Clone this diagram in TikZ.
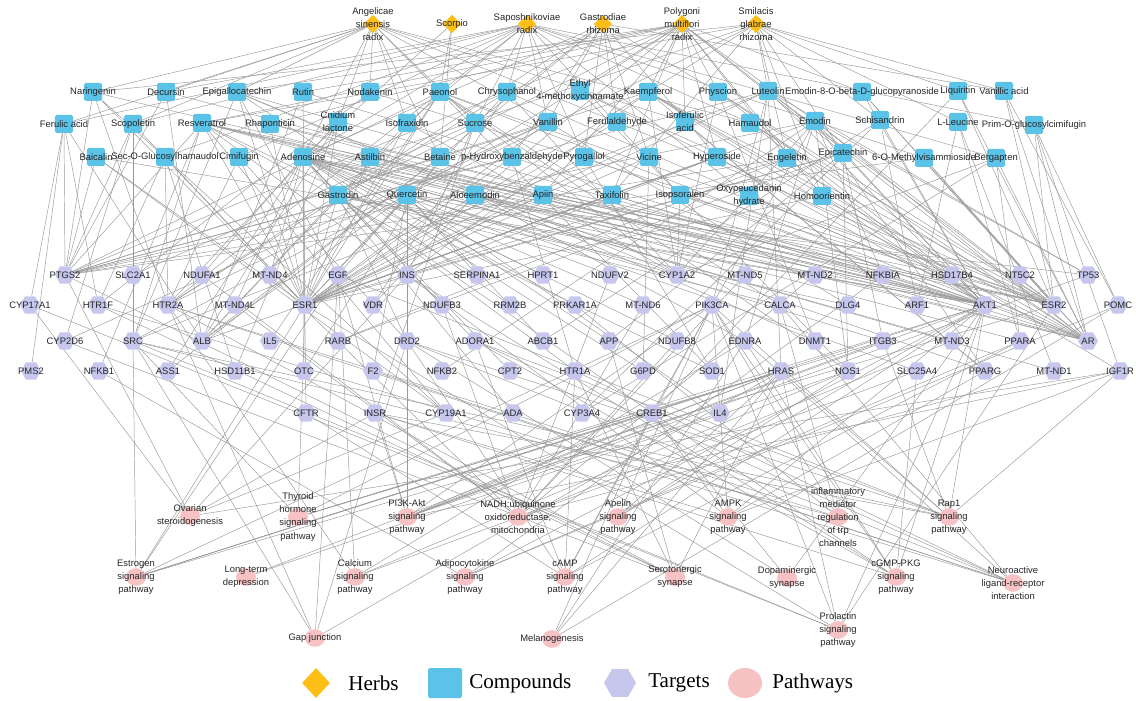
\documentclass[tikz,border=0pt]{standalone}
\usepackage{fontspec}
\setmainfont{Liberation Sans}
\newfontfamily\legfont{Liberation Serif}
\usetikzlibrary{shapes.geometric,backgrounds}
\definecolor{herbc}{HTML}{FDBE16}
\definecolor{cpdc}{HTML}{5BC3E8}
\definecolor{tgtc}{HTML}{C7C7EE}
\definecolor{pwc}{HTML}{F6C2C4}
\begin{document}
\begin{tikzpicture}[x=0.025cm,y=-0.025cm,
  herb/.style={diamond,fill=herbc,inner sep=0pt,minimum width=4.6mm,minimum height=4.6mm},
  cpd/.style={rectangle,rounded corners=1.2pt,fill=cpdc,inner sep=0pt,minimum size=4.5mm},
  tgt/.style={regular polygon,regular polygon sides=6,fill=tgtc,inner sep=0pt,minimum size=5mm},
  pw/.style={ellipse,fill=pwc,inner sep=0pt,minimum width=5mm,minimum height=4.4mm},
  txt/.style={font=\fontsize{6.7}{9.3}\selectfont,align=center,inner sep=0pt,text=black!85},
  leg/.style={font=\legfont\fontsize{15}{18}\selectfont,inner sep=0pt,anchor=west},
  edge/.style={draw=black!40,line width=0.33pt}]
\useasboundingbox (0,0) rectangle (1136,701);

% herbs
\foreach \n/\x/\t in {angel/373/{Angelicae\\sinensis\\radix}, scorp/452/Scorpio, sapo/527/{Saposhnikoviae\\radix},
  gastr/603/{Gastrodiae\\rhizoma}, polyg/682/{Polygoni\\multiflori\\radix}, smila/756/{Smilacis\\glabrae\\rhizoma}}
  {\node[herb] (\n) at (\x,24) {}; \node[txt] (\n t) at (\n) {\t};}

% compounds
\foreach \n/\x/\y/\t in {narin/93/92/Naringenin, decur/166/92/Decursin, epiga/237/92/Epigallocatechin, rutin/303/92/Rutin,
  nodak/370/92/Nodakenin, paeon/440/92/Paeonol, chrys/507/92/Chrysophanol, ethyl/580/91/{Ethyl\\4-methoxycinnamate},
  kaemp/648/92/Kaempferol, physc/718/92/Physcion, luteo/768/91/Luteolin, emogl/862/92/Emodin-8-O-beta-D-glucopyranoside,
  liqui/958/91/Liquiritin, vanac/1004/91/Vanillic acid,
  ferac/64/124/Ferulic acid, scopo/133/124/Scopoletin, resve/202/123/Resveratrol, rhapo/270/124/Rhaponticin,
  cnidi/338/122/{Cnidium\\lactone}, isofr/407/123/Isofraxidin, sucro/475/123/Sucrose, vanil/548/122/Vanillin,
  ferad/617/122/Ferulaldehyde, isofe/685/122/{Isoferulic\\acid}, hamau/750/123/Hamaudol, emodi/815/121/Emodin,
  schis/880/120/Schisandrin, leuci/958/122/L-Leucine, primo/1034/125/Prim-O-glucosylcimifugin,
  baica/96/157/Baicalin, secog/165/157/Sec-O-Glucosylhamaudol, cimif/239/157/Cimifugin, adeno/303/157/Adenosine,
  astil/370/157/Astilbin, betai/440/157/Betaine, phydr/512/157/p-Hydroxybenzaldehyde, pyrog/584/157/Pyrogallol,
  vicin/649/157/Vicine, hyper/717/157/Hyperoside, engel/787/158/Engeletin, epica/843/153/Epicatechin,
  methy/924/158/6-O-Methylvisammioside, berga/996/158/Bergapten,
  gastd/338/195/Gastrodin, querc/407/195/Quercetin, aloee/475/195/Aloeemodin, apiin/543/195/Apiin,
  taxif/612/195/Taxifolin, isops/680/195/Isopsoralen, oxype/749/196/{Oxypeucedanin\\hydrate}, homoo/822/196/Homoorientin}
  {\node[cpd] (\n) at (\x,\y) {}; \node[txt] (\n t) at (\n) {\t};}

% targets
\foreach \n/\x in {PTGS2/65, SLC2A1/133, NDUFA1/202, MT-ND4/270, EGF/338, INS/407, SERPINA1/477, HPRT1/543,
  NDUFV2/610, CYP1A2/677, MT-ND5/745, MT-ND2/815, NFKBIA/883, HSD17B4/952, NT5C2/1020, TP53/1088}
  {\node[tgt] (\n) at (\x,275) {}; \node[txt] (\n t) at (\n) {\n};}
\foreach \n/\x in {CYP17A1/30, HTR1F/98, HTR2A/168, MT-ND4L/235, ESR1/305, VDR/373, NDUFB3/442, RRM2B/510,
  PRKAR1A/575, MT-ND6/643, PIK3CA/712, CALCA/780, DLG4/848, ARF1/917, AKT1/985, ESR2/1054, POMC/1118}
  {\node[tgt] (\n) at (\x,305) {}; \node[txt] (\n t) at (\n) {\n};}
\foreach \n/\x in {CYP2D6/65, SRC/133, ALB/202, IL5/270, RARB/338, DRD2/407, ADORA1/475, ABCB1/543,
  APP/609, NDUFB8/677, EDNRA/745, DNMT1/815, ITGB3/883, MT-ND3/952, PPARA/1020, AR/1088}
  {\node[tgt] (\n) at (\x,341) {}; \node[txt] (\n t) at (\n) {\n};}
\foreach \n/\x in {PMS2/31, NFKB1/99, ASS1/168, HSD11B1/235, OTC/304, F2/373, NFKB2/442, CPT2/510, HTR1A/575,
  G6PD/643, SOD1/712, HRAS/781, NOS1/848, SLC25A4/917, PPARG/985, MT-ND1/1054, IGF1R/1120}
  {\node[tgt] (\n) at (\x,371) {}; \node[txt] (\n t) at (\n) {\n};}
\foreach \n/\x in {CFTR/306, INSR/375, CYP19A1/446, ADA/513, CYP3A4/582, CREB1/652, IL4/720}
  {\node[tgt] (\n) at (\x,413) {}; \node[txt] (\n t) at (\n) {\n};}

% pathways
\foreach \n/\x/\y/\t in {ovar/190/516/{Ovarian\\steroidogenesis}, thyr/298/517/{Thyroid\\hormone\\signaling\\pathway},
  pi3k/407/517/{PI3K-Akt\\signaling\\pathway}, nadh/518/517/{NADH:ubiquinone\\oxidoreductase,\\mitochondria},
  apel/618/517/{Apelin\\signaling\\pathway}, ampk/728/517/{AMPK\\signaling\\pathway},
  infl/838/517/{inflammatory\\mediator\\regulation\\of trp\\channels}, rap1/949/517/{Rap1\\signaling\\pathway},
  estr/136/577/{Estrogen\\signaling\\pathway}, ltd/246/577/{Long-term\\depression}, calc/355/577/{Calcium\\signaling\\pathway},
  adip/465/577/{Adipocytokine\\signaling\\pathway}, camp/565/577/{cAMP\\signaling\\pathway}, sero/675/577/{Serotonergic\\synapse},
  dopa/787/578/{Dopaminergic\\synapse}, cgmp/896/577/{cGMP-PKG\\signaling\\pathway},
  neur/1013/583/{Neuroactive\\ligand-receptor\\interaction}, gap/315/638/Gap junction, mela/552/639/Melanogenesis,
  prol/838/630/{Prolactin\\signaling\\pathway}}
  {\node[pw] (\n) at (\x,\y) {}; \node[txt] (\n t) at (\n) {\t};}

\begin{pgfonlayer}{background}
% herb - compound
\foreach \a/\bs in {angel/{narin,decur,ferac,scopo,nodak,isofr,cnidi,adeno,sucro,vanil,ferad,isofe,betai,hamau,paeon,epiga},
  scorp/{paeon,betai,adeno},
  sapo/{primo,cimif,secog,methy,hamau,berga,isops,decur,scopo,oxype,paeon,chrys,ferac,isofr,sucro,vanil,pyrog,adeno},
  gastr/{gastd,phydr,vanil,adeno,sucro,vanac,ferad,pyrog,vicin,betai,hyper,physc},
  polyg/{emodi,physc,chrys,aloee,rhapo,resve,emogl,epica,epiga,kaemp,luteo,querc,rutin,hyper,taxif,apiin,gastd,isofe,ethyl,homoo,engel},
  smila/{astil,engel,taxif,querc,resve,narin,liqui,vanac,luteo,kaemp,schis,leuci,homoo,epica}}
  \foreach \b in \bs \draw[edge] (\a) -- (\b);
% compound - target
\foreach \a/\bs in {narin/{ESR1,AKT1,PTGS2,CYP19A1,HTR2A}, decur/{AKT1,PTGS2,ALB}, epiga/{ESR1,AKT1,APP,EGF,CYP1A2,SRC,DNMT1},
  rutin/{ALB,AKT1,ESR1}, nodak/{HTR1F,ESR2}, paeon/{PTGS2,ESR1,ESR2,AR,CYP1A2,HTR2A,ALB,IL5,NOS1,SOD1,CALCA},
  chrys/{AR,ESR1,CYP1A2,HTR2A,PTGS2,VDR}, ethyl/{ESR2,AR,NOS1}, kaemp/{AKT1,ESR1,ESR2,AR,PTGS2,CYP1A2,INS,PPARG,IGF1R},
  physc/{AR,ESR2,DNMT1,CYP1A2,HSD17B4}, luteo/{AKT1,ESR1,ESR2,AR,PIK3CA,SRC,PTGS2,IL4,HRAS,TP53},
  emogl/{AR,ESR2,AKT1}, liqui/{ESR2,AR,CREB1}, vanac/{AR,POMC,ESR2}, ferac/{PTGS2,CYP17A1,HTR1F,ALB,PMS2},
  scopo/{PTGS2,CYP2D6,ESR1,SRC}, resve/{ESR1,PTGS2,AKT1,SRC,CYP19A1,NFKB1,AR,INS,SOD1,PPARA,SERPINA1,NFKBIA,HSD17B4},
  rhapo/{ESR1,ESR2,AR}, cnidi/{HTR2A,ESR1,ALB,HSD11B1}, isofr/{ESR1,CYP1A2,ALB}, sucro/{INS,INSR,SLC2A1},
  vanil/{PTGS2,CYP2D6,HTR2A,ESR1,DLG4}, ferad/{ESR1,ESR2}, isofe/{ESR1,PPARG}, hamau/{ESR2,AR,AKT1},
  emodi/{AKT1,ESR1,ESR2,AR,PTGS2,CYP1A2,NOS1,PPARG,CREB1,NFKBIA,TP53,EDNRA,NFKB2}, schis/{AKT1,CYP3A4,ABCB1,ARF1},
  leuci/{MT-ND1,PPARA,ARF1}, primo/{AR,IGF1R,ESR2,POMC}, baica/{PTGS2,AKT1,ESR1,CYP19A1}, secog/{HTR2A,HTR1F,ESR1,HSD11B1},
  cimif/{HTR2A,DRD2,ESR1},
  adeno/{ADORA1,ADA,NDUFA1,NDUFB3,NDUFV2,MT-ND1,MT-ND2,MT-ND3,MT-ND4,MT-ND4L,MT-ND5,MT-ND6,NDUFB8,HPRT1,RRM2B,PRKAR1A,G6PD,CFTR,SLC25A4,OTC,CPT2,AKT1,ESR2,ASS1,NT5C2},
  astil/{ESR1,ESR2,AKT1}, betai/{ALB,OTC,ASS1}, phydr/{HTR1A,ESR1,PTGS2}, pyrog/{SOD1,ESR1,AKT1}, vicin/{G6PD,ESR1},
  hyper/{AKT1,ESR1,INS,ALB}, engel/{ESR1,AKT1,PTGS2,RARB}, epica/{ESR1,AKT1,APP,INS,NOS1,RARB,ITGB3},
  methy/{AR,ESR2,PTGS2}, berga/{CYP3A4,CYP1A2,PPARA,AR}, gastd/{HTR1A,DRD2,CREB1,ESR1,AKT1,HTR2A,CALCA,DLG4},
  querc/{ESR1,AKT1,PTGS2,ALB,CYP1A2,SRC,F2,EGF,INS,IL4,SERPINA1,TP53,ABCB1,ITGB3}, aloee/{AR,ESR1,AKT1,PPARG,VDR,EDNRA},
  apiin/{ESR1,ESR2}, taxif/{ESR1,AKT1,AR}, isops/{AR,ESR2,CYP1A2}, oxype/{ESR2,AR}, homoo/{AKT1,ESR1}}
  \foreach \b in \bs \draw[edge] (\a) -- (\b);
% target - pathway
\foreach \a/\bs in {ovar/{CYP17A1,CYP19A1,INS,INSR,IGF1R,PTGS2}, thyr/{ESR1,AKT1,PIK3CA,HRAS,SRC,ITGB3},
  pi3k/{AKT1,PIK3CA,HRAS,INS,INSR,IGF1R,EGF,ITGB3,CREB1,IL4,TP53}, nadh/{NDUFA1,NDUFB3,NDUFB8,NDUFV2,MT-ND1,MT-ND2,MT-ND3,MT-ND4,MT-ND4L,MT-ND5,MT-ND6},
  apel/{AKT1,HRAS,NOS1,PIK3CA}, ampk/{AKT1,PIK3CA,INS,INSR,IGF1R,PPARG,CREB1}, infl/{HTR2A,PRKAR1A,SRC,PIK3CA,CALCA},
  rap1/{AKT1,PIK3CA,HRAS,INSR,IGF1R,EGF,SRC,ITGB3,ADORA1,DRD2}, estr/{ESR1,ESR2,AKT1,PIK3CA,HRAS,SRC,CREB1,EGF},
  ltd/{NOS1,HRAS}, calc/{HTR2A,EDNRA,NOS1,EGF,SLC25A4}, adip/{AKT1,NFKB1,NFKBIA,PPARA,POMC},
  camp/{AKT1,PIK3CA,CREB1,HTR1A,DRD2,ADORA1,CFTR,PPARA}, sero/{HTR1A,HTR1F,HTR2A,PTGS2,HRAS,CYP2D6,APP},
  dopa/{DRD2,CREB1,AKT1}, cgmp/{AKT1,PIK3CA,CREB1,INS,INSR,ADORA1,EDNRA,SLC25A4},
  neur/{HTR1A,HTR1F,HTR2A,DRD2,ADORA1,EDNRA,F2,CALCA}, gap/{HTR2A,DRD2,HRAS,EGF,SRC}, mela/{CREB1,HRAS,EDNRA,POMC},
  prol/{AKT1,PIK3CA,HRAS,ESR1,ESR2,CYP17A1,SRC}}
  \foreach \b in \bs \draw[edge] (\a) -- (\b);
\end{pgfonlayer}

% legend
\node[herb,minimum width=7mm,minimum height=7.5mm] (lherb) at (316,683) {};
\node[leg] (lherbt) at (348,683) {Herbs};
\node[cpd,minimum width=8.5mm,minimum height=7.5mm] (lcpd) at (445,683) {};
\node[leg] (lcpdt) at (469,683) {Compounds};
\node[tgt,minimum size=8mm] (ltgt) at (620,683) {};
\node[leg] (ltgtt) at (648,683) {Targets};
\node[pw,minimum width=8.5mm,minimum height=7.5mm] (lpw) at (745,683) {};
\node[leg] (lpwt) at (772,683) {Pathways};
\end{tikzpicture}
\end{document}
